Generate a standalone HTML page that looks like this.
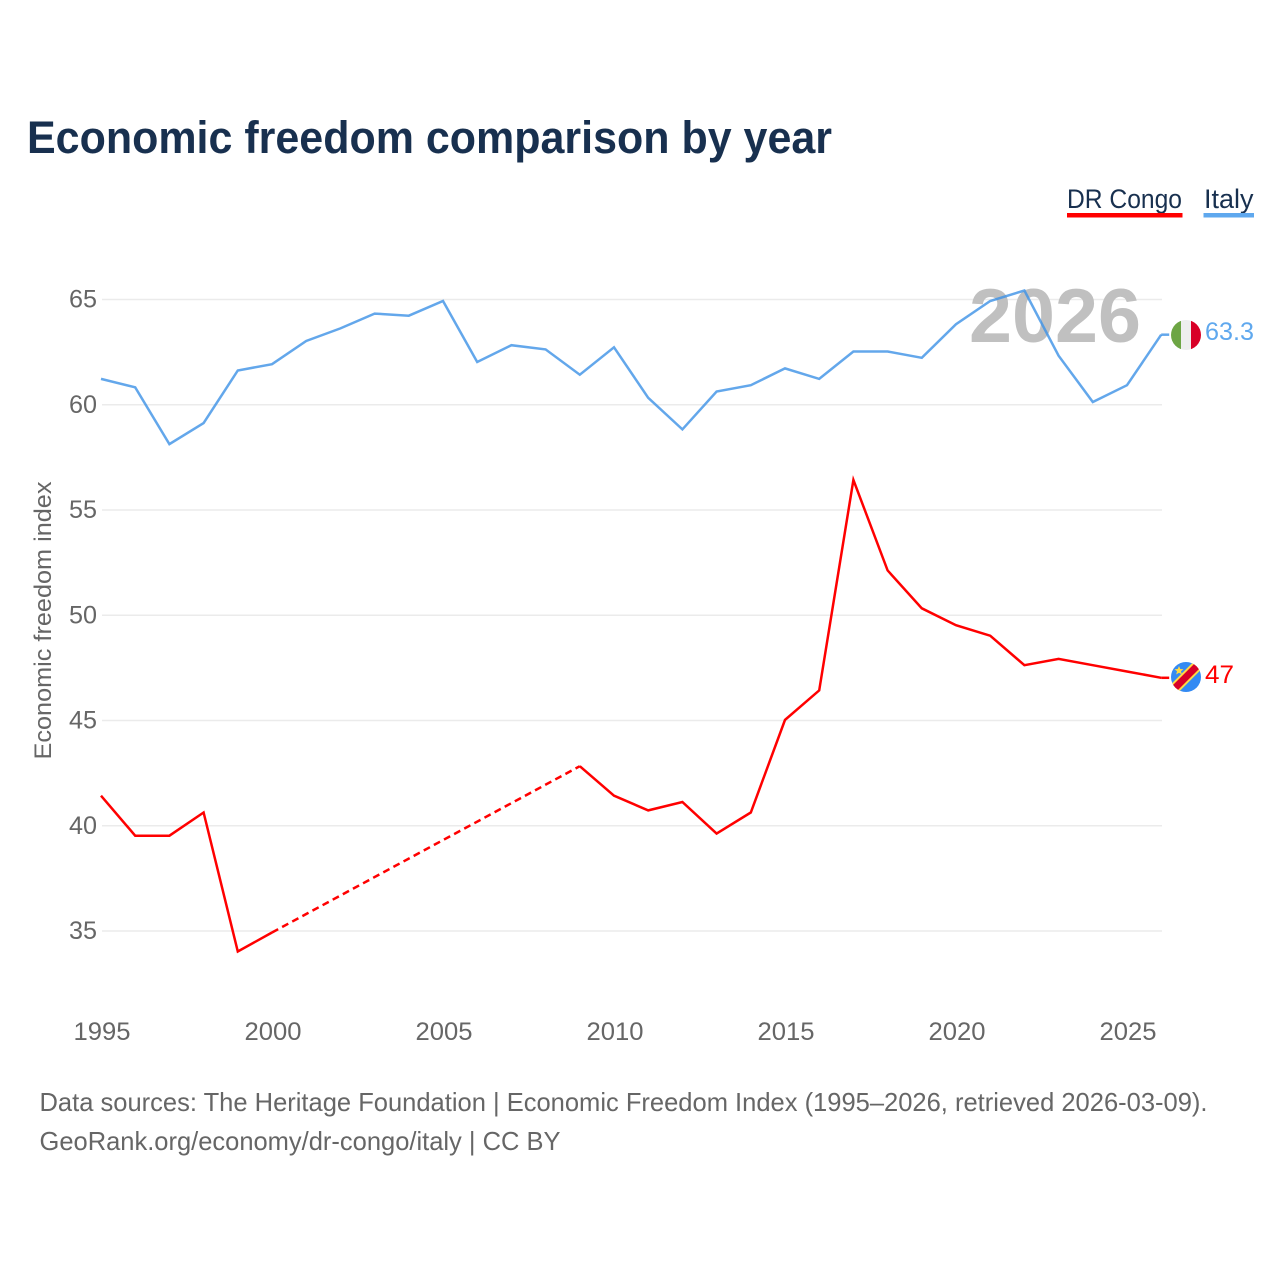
<!DOCTYPE html>
<html lang="en">
<head>
<meta charset="utf-8">
<title>Economic freedom comparison by year</title>
<style>
html,body{margin:0;padding:0;background:#fff;width:1280px;height:1280px;overflow:hidden}
svg{display:block;font-family:"Liberation Sans",sans-serif}
</style>
</head>
<body>
<svg id="chart" width="1280" height="1280" viewBox="0 0 1280 1280" xmlns="http://www.w3.org/2000/svg">
<defs>
<clipPath id="clip-it"><circle cx="1186" cy="335" r="15"/></clipPath>
<clipPath id="clip-cd"><circle cx="1186" cy="677" r="15"/></clipPath>
</defs>
<text x="27" y="153" font-size="45" font-weight="700" fill="#18304f" textLength="805" lengthAdjust="spacingAndGlyphs">Economic freedom comparison by year</text>
<g id="grid"></g>
<text x="969" y="342" font-size="76" font-weight="700" fill="#c0c0c0" textLength="172" lengthAdjust="spacingAndGlyphs">2026</text>
<g id="yticks"></g>
<g id="xticks"></g>
<text transform="translate(51,759.500) rotate(-90)" font-size="24" fill="#666" textLength="278" lengthAdjust="spacingAndGlyphs">Economic freedom index</text>
<g id="series"></g>
<g>
<g>
<text x="1067" y="208" font-size="27" fill="#18304f" textLength="115" lengthAdjust="spacingAndGlyphs">DR Congo</text>
<rect x="1067" y="213" width="115.500" height="4.500" fill="#ff0000"/>
</g>
<g>
<text x="1204" y="208" font-size="27" fill="#18304f" textLength="49.500" lengthAdjust="spacingAndGlyphs">Italy</text>
<rect x="1203.500" y="213" width="50.500" height="4.500" fill="#5fa8ee"/>
</g>
</g>
<g clip-path="url(#clip-it)">
<rect x="1171" y="320" width="10" height="30" fill="#6da544"/>
<rect x="1181" y="320" width="10" height="30" fill="#eeeeee"/>
<rect x="1191" y="320" width="10" height="30" fill="#d80027"/>
</g>
<g clip-path="url(#clip-cd)">
<rect x="1171" y="662" width="30" height="30" fill="#338af3"/>
<line x1="1168" y1="695" x2="1204" y2="659" stroke="#ffda44" stroke-width="11"/>
<line x1="1168" y1="695" x2="1204" y2="659" stroke="#d80027" stroke-width="7"/>
<polygon points="1179,666 1180.300,669 1183.500,669.300 1181,671.300 1181.800,674.500 1179,672.800 1176.200,674.500 1177,671.300 1174.500,669.300 1177.700,669" fill="#ffda44"/>
</g>
<text x="1205" y="340" font-size="25" fill="#5fa8ee" textLength="49" lengthAdjust="spacingAndGlyphs">63.3</text>
<text x="1205" y="683" font-size="25" fill="#ff0000" textLength="29" lengthAdjust="spacingAndGlyphs">47</text>
<text x="39.500" y="1111" font-size="26" fill="#666" textLength="1168" lengthAdjust="spacingAndGlyphs">Data sources: The Heritage Foundation | Economic Freedom Index (1995–2026, retrieved 2026-03-09).</text>
<text x="39.500" y="1150" font-size="26" fill="#666" textLength="521" lengthAdjust="spacingAndGlyphs">GeoRank.org/economy/dr-congo/italy | CC BY</text>
</svg>
<script>
const years = [1995,1996,1997,1998,1999,2000,2001,2002,2003,2004,2005,2006,2007,2008,2009,2010,2011,2012,2013,2014,2015,2016,2017,2018,2019,2020,2021,2022,2023,2024,2025,2026];
const italyValues = [61.2,60.8,58.1,59.1,61.6,61.9,63.0,63.6,64.3,64.2,64.9,62.0,62.8,62.6,61.4,62.7,60.3,58.8,60.6,60.9,61.7,61.2,62.5,62.5,62.2,63.8,64.9,65.4,62.3,60.1,60.9,63.3];
const congoValues = [41.4,39.5,39.5,40.6,34.0,34.9,null,null,null,null,null,null,null,null,42.8,41.4,40.7,41.1,39.6,40.6,45.0,46.4,56.4,52.1,50.3,49.5,49.0,47.6,47.9,47.6,47.3,47.0];
const yTickValues = [35,40,45,50,55,60,65];
const xTickValues = [1995,2000,2005,2010,2015,2020,2025];

const NS = 'http://www.w3.org/2000/svg';
const xScale = function (yr) { return 102 + (yr - 1995) * 34.2; };
const yScale = function (v) { return 299.5 + (65 - v) * 21.05; };
const lineShiftX = -1;
const lineShiftY = -0.6;

function svgEl(tag, attrs, parent) {
  const el = document.createElementNS(NS, tag);
  Object.keys(attrs).forEach(function (k) { el.setAttribute(k, attrs[k]); });
  parent.appendChild(el);
  return el;
}

const gridGroup = document.getElementById('grid');
const yTickGroup = document.getElementById('yticks');
const xTickGroup = document.getElementById('xticks');
const seriesGroup = document.getElementById('series');

yTickValues.forEach(function (v) {
  const line = svgEl('line', {x1: 102, x2: 1162, y1: yScale(v), y2: yScale(v), stroke: '#ebebeb', 'stroke-width': 1.5}, gridGroup);
  
  
  const label = svgEl('text', {x: 97, y: yScale(v) + 8, 'font-size': 25, fill: '#666', 'text-anchor': 'end', textLength: 28, lengthAdjust: 'spacingAndGlyphs'}, yTickGroup);
  
  
  label.textContent = String(v);
});

xTickValues.forEach(function (yr) {
  const label = svgEl('text', {x: xScale(yr), y: 1040, 'font-size': 25, fill: '#666', 'text-anchor': 'middle', textLength: 57, lengthAdjust: 'spacingAndGlyphs'}, xTickGroup);
  
  
  label.textContent = String(yr);
});

function drawSeries(values, color, key) {
  const segments = [];
  let current = [];
  let lastPoint = null;
  values.forEach(function (v, i) {
    if (v === null) {
      if (current.length) { segments.push({pts: current, dashed: false}); lastPoint = current[current.length - 1]; current = []; }
      return;
    }
    const p = [xScale(years[i]) + lineShiftX, yScale(v) + lineShiftY];
    if (lastPoint && !current.length) { segments.push({pts: [lastPoint, p], dashed: true}); lastPoint = null; }
    current.push(p);
  });
  if (current.length) { segments.push({pts: current, dashed: false}); }
  segments.forEach(function (seg, idx) {
    const d = seg.pts.map(function (p) { return p[0].toFixed(1) + ',' + p[1].toFixed(1); }).join(' ');
    const line = svgEl('polyline', {points: d, fill: 'none', stroke: color, 'stroke-width': 2.5, 'stroke-linejoin': 'miter'}, seriesGroup);
    
    
    if (seg.dashed) { line.setAttribute('stroke-dasharray', '7 4.5'); }
  });
  const lastV = values[values.length - 1];
  const lastX = xScale(years[years.length - 1]) + lineShiftX;
  const conn = svgEl('line', {x1: lastX, x2: lastX + 8, y1: yScale(lastV) + lineShiftY, y2: yScale(lastV) + lineShiftY, stroke: color, 'stroke-width': 2.5}, seriesGroup);
  
  
}

drawSeries(congoValues, '#ff0000', 'dr-congo');
drawSeries(italyValues, 'rgba(60,145,230,0.8)', 'italy');
</script>
</body>
</html>
